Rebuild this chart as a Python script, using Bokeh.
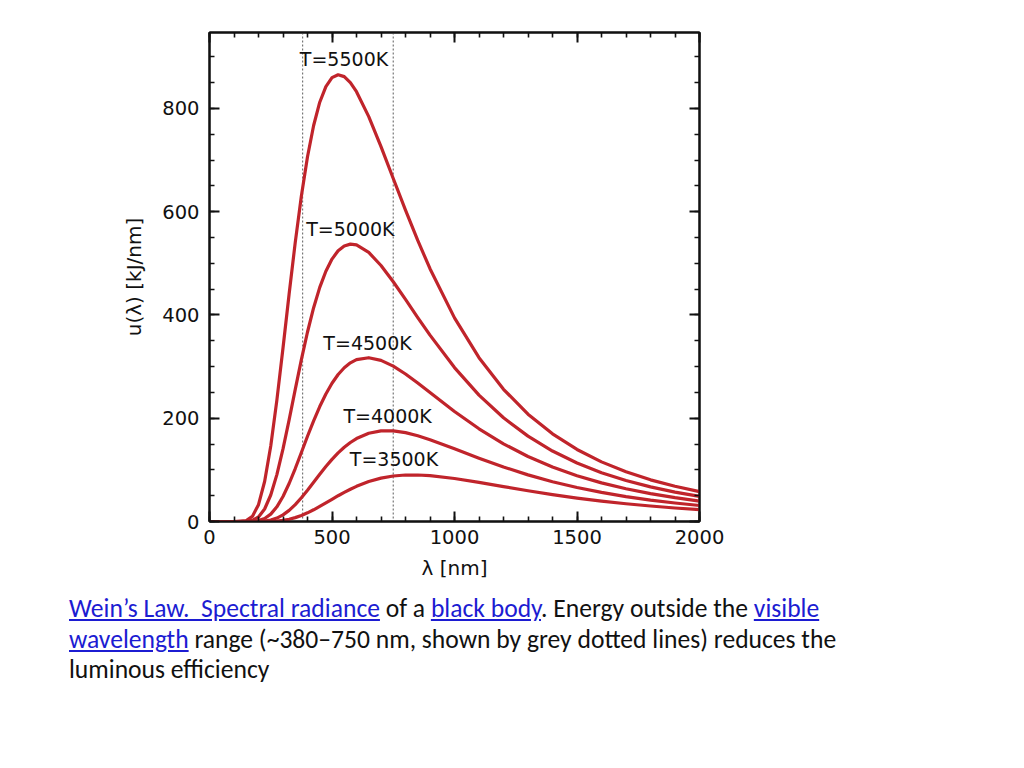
from bokeh.plotting import figure
from bokeh.models import (Range1d, LinearAxis, FixedTicker, Span, Div,
                          CustomLabelingPolicy)
from bokeh.layouts import column
from bokeh.core.properties import value
from bokeh.embed import file_html
from bokeh.resources import INLINE

# wavelength samples [nm]
wavelength = [0, 100, 150, 175, 200, 225, 250, 275, 300, 325, 350, 375, 400, 425, 450, 475,
              500, 525, 550, 575, 600, 650, 700, 750, 800, 850, 900, 1000, 1100, 1200, 1300,
              1400, 1500, 1600, 1700, 1800, 1900, 2000]

# spectral energy density u(lambda) [kJ/nm]
u_5500 = [0, 0, 1.8, 9.8, 32.6, 77.4, 146.2, 235.0, 336.0, 440.5, 540.6, 630.4, 706.4, 766.9,
          812.0, 842.3, 859.5, 865.2, 861.5, 849.9, 832.3, 784.0, 726.1, 664.2, 602.9, 544.3,
          489.6, 394.3, 317.2, 256.1, 207.8, 169.7, 139.5, 115.5, 96.3, 80.7, 68.2, 57.9]
u_5000 = [0, 0, 0.3, 2.2, 8.8, 24.2, 51.3, 90.8, 140.5, 196.9, 255.9, 313.6, 367.0, 414.0,
          453.4, 484.7, 508.2, 524.3, 533.7, 537.2, 535.7, 521.1, 495.8, 464.3, 430.0, 395.0,
          360.9, 298.1, 244.8, 200.9, 165.3, 136.5, 113.3, 94.6, 79.4, 67.0, 56.9, 48.6]
u_4500 = [0, 0, 0.04, 0.35, 1.8, 5.8, 14.3, 28.4, 48.4, 73.6, 102.6, 133.7, 165.0, 195.0,
          222.6, 247.0, 267.7, 284.6, 297.7, 307.2, 313.4, 317.2, 312.1, 300.9, 285.7, 268.2,
          249.8, 213.1, 179.5, 150.4, 125.9, 105.5, 88.6, 74.8, 63.4, 53.9, 46.1, 39.6]
u_4000 = [0, 0, 0, 0.04, 0.24, 1.0, 2.9, 6.6, 12.8, 21.5, 32.8, 46.0, 60.7, 76.1, 91.5,
          106.4, 120.3, 132.8, 143.7, 153.0, 160.6, 170.9, 175.5, 175.5, 172.1, 166.1, 158.5,
          140.9, 122.7, 105.6, 90.3, 77.1, 65.8, 56.3, 48.3, 41.5, 35.8, 31.0]
u_3500 = [0, 0, 0, 0, 0.02, 0.1, 0.4, 1.0, 2.3, 4.4, 7.5, 11.7, 16.8, 22.7, 29.2, 36.0, 43.0,
          49.9, 56.4, 62.5, 68.1, 77.4, 84.0, 88.1, 90.0, 90.1, 88.8, 83.3, 75.8, 67.6, 59.5,
          52.1, 45.4, 39.5, 34.4, 30.0, 26.2, 22.9]

curve_labels = ["T=5500K", "T=5000K", "T=4500K", "T=4000K", "T=3500K"]
visible_limits = [380, 750]

x_major = [0, 500, 1000, 1500, 2000]
x_minor = list(range(0, 2001, 100))
y_major = [0, 200, 400, 600, 800]
y_minor = list(range(0, 950, 50))

# label anchor positions (data coords)
label_x = [549, 575, 645, 727, 753]
label_y = [895, 566, 345, 205, 122]

RED = "#c0242b"
FONT = "DejaVu Sans"
INK = "#111111"

p = figure(frame_width=490, frame_height=489,
           x_range=Range1d(0, 2000), y_range=Range1d(0, 947),
           output_backend="svg", toolbar_location=None,
           min_border_left=209, min_border_top=32, min_border_right=40,
           min_border_bottom=70, x_axis_location=None, y_axis_location=None)
p.grid.visible = False
p.outline_line_color = "black"
p.outline_line_width = 2
p.background_fill_color = "white"
p.border_fill_color = "white"

no_labels = CustomLabelingPolicy(code="for (const i of Array.from(indices)) indices.unset(i)")


def make_axis(major, minor, show_labels):
    ax = LinearAxis(ticker=FixedTicker(ticks=major, minor_ticks=minor))
    ax.major_tick_in = 10
    ax.major_tick_out = 0
    ax.minor_tick_in = 5
    ax.minor_tick_out = 0
    ax.major_tick_line_width = 2
    ax.minor_tick_line_width = 1.6
    ax.major_tick_line_color = INK
    ax.minor_tick_line_color = INK
    ax.axis_line_width = 2
    ax.axis_line_color = INK
    ax.major_label_text_font = FONT
    ax.major_label_text_font_size = "19.5px"
    ax.major_label_text_color = INK
    ax.axis_label_text_font = FONT
    ax.axis_label_text_font_size = "20px"
    ax.axis_label_text_font_style = "normal"
    ax.axis_label_text_color = INK
    if not show_labels:
        ax.major_label_policy = no_labels
    return ax


xb = make_axis(x_major, x_minor, True)
xb.major_label_standoff = 8
xb.axis_label = "λ [nm]"
xb.axis_label_standoff = 9
p.add_layout(xb, "below")

yl = make_axis(y_major, y_minor, True)
yl.major_label_standoff = 10
yl.axis_label = "u(λ) [kJ/nm]"
yl.axis_label_standoff = 13
p.add_layout(yl, "left")

p.add_layout(make_axis(x_major, x_minor, False), "above")
p.add_layout(make_axis(y_major, y_minor, False), "right")

for loc in visible_limits:
    p.add_layout(Span(location=loc, dimension="height", line_color="#777777",
                      line_width=1.2, line_dash="2 2", level="underlay"))

for ys in [u_5500, u_5000, u_4500, u_4000, u_3500]:
    p.line(wavelength, ys, line_color=RED, line_width=3.2, line_join="round")

p.text(x=label_x, y=label_y, text=curve_labels, text_font=value(FONT),
       text_font_size="19px", text_align="center", text_baseline="middle",
       text_color=INK)

link = 'style="color:#1c1cd2;text-decoration:underline"'
caption = Div(text=(
    '<div style="font-family:Carlito, Lato, sans-serif; font-size:25.6px; line-height:30.5px; '
    'color:#111; white-space:nowrap;">'
    f'<a href="#" {link}>Wein’s Law.&nbsp; Spectral radiance</a> of a '
    f'<a href="#" {link}>black body</a>. Energy outside the '
    f'<a href="#" {link}>visible</a><br>'
    f'<a href="#" {link}>wavelength</a> range (~380–750 nm, shown by grey dotted lines) '
    'reduces the<br>luminous efficiency</div>'),
    width=900, height=110, margin=(3, 0, 0, 69))

layout = column(p, caption, spacing=0)
open("out.html", "w").write(file_html(layout, INLINE))
